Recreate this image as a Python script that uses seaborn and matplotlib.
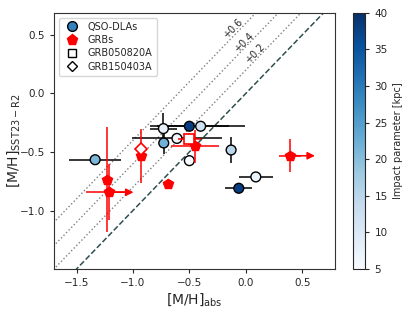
import numpy as np
import matplotlib
matplotlib.use("Agg")
import matplotlib.pyplot as plt
import seaborn as sns
from matplotlib.lines import Line2D

# QSO-DLAs: metallicities from absorption vs SST23-R2, coloured by impact parameter
qso_x = [-1.335, -0.73, -0.50, -0.40, -0.61, -0.727, -0.50, -0.13, 0.089, -0.062]
qso_y = [-0.566, -0.30, -0.28, -0.28, -0.384, -0.423, -0.574, -0.483, -0.713, -0.81]
qso_xerr = [0.23, 0.12, 0.35, 0.39, 0.40, 0.0, 0.0, 0.0, 0.15, 0.12]
qso_yerr = [0.0, 0.13, 0.03, 0.0, 0.0, 0.09, 0.045, 0.115, 0.0, 0.03]
qso_b = [21, 8, 38, 12, 6, 22, 5, 15, 7, 38]

# GRB hosts (red pentagons); lolim marks lower limits in [M/H]_abs
grb_x = [0.393, -0.449, -0.69, -0.927, -1.232, -1.215]
grb_y = [-0.532, -0.452, -0.773, -0.537, -0.736, -0.844]
grb_xerr = [0.10, 0.21, 0.04, 0.0, 0.0, 0.20]
grb_yerr = [0.14, 0.14, 0.04, 0.23, 0.45, 0.24]
grb_lolim = [True, False, False, False, False, True]
arrow_len = 0.22

# two named GRBs
grb050820a = (-0.50, -0.387, 0.10, 0.05)
grb150403a = (-0.927, -0.475, 0.0, 0.0)

offsets = [0.2, 0.4, 0.6]
offset_labels = ["+0.2", "+0.4", "+0.6"]
label_pos = [(0.082, 0.34), (-0.012, 0.435), (-0.11, 0.555)]

sns.set_style("ticks")
plt.rcParams["font.family"] = ["DejaVu Sans"]

fig = plt.figure(figsize=(4.15, 3.11), dpi=100)
ax = fig.add_axes([0.130, 0.135, 0.677, 0.824])
cax = fig.add_axes([0.850, 0.135, 0.0305, 0.824])

xx = np.array([-2.0, 1.0])
ax.plot(xx, xx, ls="--", color="#2f4f4f", lw=1.1, zorder=1)
for off, lab, (lx, ly) in zip(offsets, offset_labels, label_pos):
    ax.plot(xx, xx + off, ls=":", color="gray", lw=1.0, zorder=1)
    ax.text(lx, ly, lab, rotation=46, ha="center", va="center", fontsize=7)

# QSO errorbars + coloured points
for x, y, xe, ye in zip(qso_x, qso_y, qso_xerr, qso_yerr):
    ax.errorbar(x, y, xerr=xe if xe > 0 else None, yerr=ye if ye > 0 else None,
                fmt="none", ecolor="black", elinewidth=1.1, zorder=2)
norm = plt.Normalize(5, 40)
sns.scatterplot(x=qso_x, y=qso_y, hue=qso_b, palette="Blues", hue_norm=norm,
                edgecolor="black", linewidth=1.0, s=50, legend=False, zorder=3, ax=ax)

# GRBs
for x, y, xe, ye, lo in zip(grb_x, grb_y, grb_xerr, grb_yerr, grb_lolim):
    ax.errorbar(x, y, xerr=xe if xe > 0 else None, yerr=ye,
                fmt="p", color="red", ms=7, elinewidth=1.1, zorder=4)
    if lo:
        ax.annotate("", xy=(x + arrow_len, y), xytext=(x, y),
                    arrowprops=dict(arrowstyle="-|>", color="red", lw=1.1,
                                    mutation_scale=11, shrinkA=0, shrinkB=0),
                    zorder=4)

x, y, xe, ye = grb050820a
ax.errorbar(x, y, xerr=xe, yerr=ye, fmt="s", mfc="white", mec="red", ecolor="red",
            ms=7, mew=1.2, elinewidth=1.1, zorder=5)
x, y, xe, ye = grb150403a
ax.errorbar(x, y, fmt="D", mfc="white", mec="red", ms=6.5, mew=1.2, zorder=5)

ax.set_xlim(-1.7, 0.79)
ax.set_ylim(-1.5, 0.69)
ax.set_xticks([-1.5, -1.0, -0.5, 0.0, 0.5])
ax.set_yticks([-1.0, -0.5, 0.0, 0.5])
ax.tick_params(labelsize=7.5, length=3)
for s in ax.spines.values():
    s.set_color("0.2")
ax.set_xlabel("[M/H]$_{\\rm abs}$", fontsize=10, labelpad=2)
ax.set_ylabel("[M/H]$_{\\rm SST23-R2}$", fontsize=10)
ax.yaxis.set_label_coords(-0.115, 0.5)

handles = [
    Line2D([], [], marker="o", ls="none", mfc="#3182bd", mec="black", ms=7, label="QSO-DLAs"),
    Line2D([], [], marker="p", ls="none", color="red", ms=8, label="GRBs"),
    Line2D([], [], marker="s", ls="none", mfc="white", mec="black", ms=6, label="GRB050820A"),
    Line2D([], [], marker="D", ls="none", mfc="white", mec="black", ms=5.5, label="GRB150403A"),
]
ax.legend(handles=handles, loc="upper left", fontsize=7, frameon=True,
          handletextpad=0.6, borderpad=0.4, labelspacing=0.35)

sm = plt.cm.ScalarMappable(cmap="Blues", norm=norm)
cb = fig.colorbar(sm, cax=cax)
cb.set_label("Impact parameter [kpc]", fontsize=7)
cb.ax.tick_params(labelsize=7.5, length=3)
cb.set_ticks([5, 10, 15, 20, 25, 30, 35, 40])

fig.savefig("out.png", dpi=100)
